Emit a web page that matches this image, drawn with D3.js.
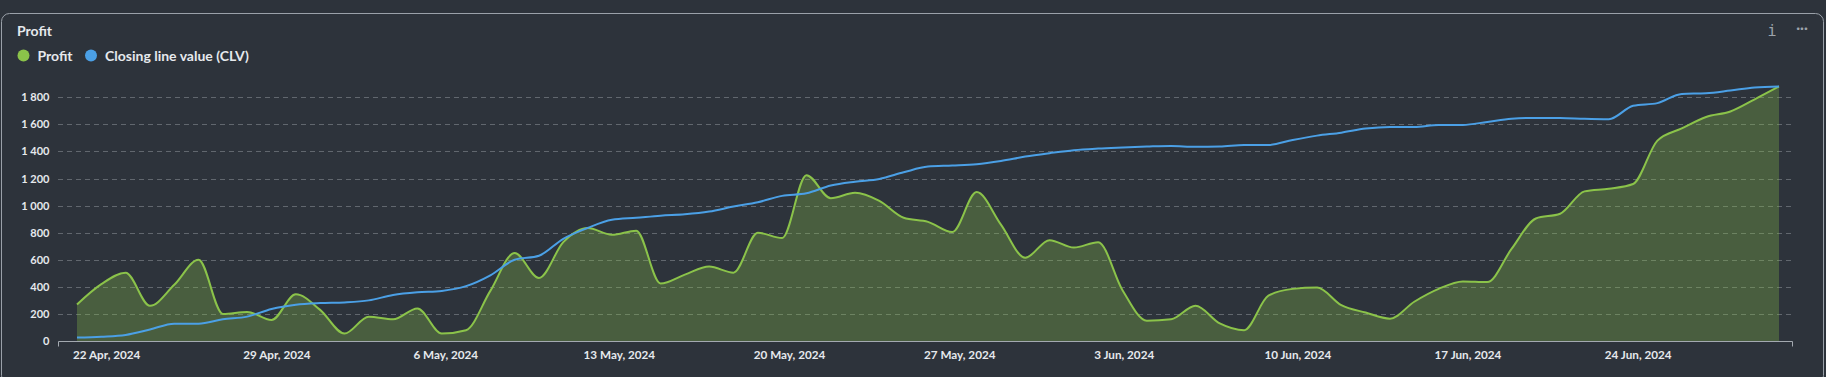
<!DOCTYPE html>
<html>
<head>
<meta charset="utf-8">
<script src="https://cdn.jsdelivr.net/npm/d3@7"></script>
<style>
  html, body { margin: 0; padding: 0; background: #2d333b; }
  svg { display: block; font-family: Lato, "Open Sans", sans-serif; }
</style>
</head>
<body>
<svg id="chart" width="1826" height="377"></svg>
<script>
// ---- data ----
const startDate = "2024-04-22";
const endDate = "2024-07-01"; // inclusive, daily points
const profit = [
  270, 420, 505, 260, 415, 600, 200, 215, 155, 345,
  230, 55, 180, 160, 240, 55, 80, 370, 650, 465,
  730, 835, 785, 815, 425, 490, 550, 505, 800, 760,
  1225, 1055, 1095, 1035, 910, 880, 805, 1100, 860, 615,
  745, 690, 730, 375, 150, 160, 260, 130, 80, 335,
  385, 395, 265, 210, 165, 290, 385, 440, 435, 680,
  905, 940, 1105, 1125, 1160, 1480, 1570, 1655, 1695, 1785,
  1880
];
const clv = [
  25, 32, 45, 85, 128, 128, 160, 180, 237, 268,
  280, 285, 300, 340, 360, 370, 405, 485, 600, 630,
  755, 835, 895, 910, 926, 936, 956, 993, 1025, 1072,
  1091, 1148, 1177, 1197, 1246, 1288, 1296, 1306, 1330, 1362,
  1387, 1409, 1421, 1429, 1436, 1441, 1434, 1436, 1448, 1448,
  1485, 1517, 1539, 1569, 1581, 1581, 1596, 1596, 1618, 1641,
  1648, 1648, 1641, 1638, 1737, 1757, 1825, 1830, 1850, 1872,
  1879
];
const yTicks = [0, 200, 400, 600, 800, 1000, 1200, 1400, 1600, 1800];
const xTickDates = ["2024-04-22", "2024-04-29", "2024-05-06", "2024-05-13", "2024-05-20",
                    "2024-05-27", "2024-06-03", "2024-06-10", "2024-06-17", "2024-06-24"];
const seriesNames = ["Profit", "Closing line value (CLV)"];
const seriesColors = ["#8bc34a", "#4ba0e6"];

// ---- setup ----
const parse = d3.utcParse("%Y-%m-%d");
const days = d3.utcDay.range(parse(startDate), d3.utcDay.offset(parse(endDate), 1));
const svg = d3.select("#chart");

// panel
svg.append("rect")
  .attr("x", 1.5).attr("y", 13.5).attr("width", 1822).attr("height", 370)
  .attr("rx", 8).attr("fill", "#2d333b").attr("stroke", "#9aa1a9").attr("stroke-width", 1);

svg.append("text").attr("x", 17).attr("y", 36)
  .attr("fill", "#e6e9ed").attr("font-size", 14).attr("font-weight", 700)
  .text("Profit");

// icons
svg.append("text").attr("x", 1772).attr("y", 36).attr("text-anchor", "middle")
  .attr("fill", "#9ca3ab").attr("font-size", 15).attr("font-family", "DejaVu Sans Mono, monospace")
  .text("i");
svg.append("text").attr("x", 1802).attr("y", 33).attr("text-anchor", "middle")
  .attr("fill", "#9ca3ab").attr("font-size", 14).attr("font-weight", 700)
  .text("···");

// legend
const legend = svg.append("g");
const legendX = [23.5, 91];
seriesNames.forEach((n, i) => {
  legend.append("circle").attr("cx", legendX[i]).attr("cy", 55.5).attr("r", 6)
    .attr("fill", seriesColors[i]);
  legend.append("text").attr("x", legendX[i] + 14).attr("y", 60.5)
    .attr("fill", "#e6e9ed").attr("font-size", 14).attr("font-weight", 700)
    .text(n);
});

// scales
const x = d3.scaleUtc().domain([days[0], days[days.length - 1]]).range([77, 1779]);
const y = d3.scaleLinear().domain([0, 1800]).range([341, 97.3]);

const fmt = d3.formatLocale({ decimal: ".", thousands: "\u2009", grouping: [3], currency: ["", ""] }).format(",");
const fmtDate = d3.utcFormat("%-d %b, %Y");

// grid
svg.append("g").selectAll("line").data(yTicks.filter(t => t > 0)).join("line")
  .attr("x1", 58).attr("x2", 1793)
  .attr("y1", d => Math.round(y(d)) + 0.5).attr("y2", d => Math.round(y(d)) + 0.5)
  .attr("stroke", "#61676e").attr("stroke-width", 1).attr("stroke-dasharray", "5,4");

// y labels
svg.append("g").selectAll("text").data(yTicks).join("text")
  .attr("x", 49.5).attr("y", d => y(d) + 4).attr("text-anchor", "end")
  .attr("fill", "#e6e9ed").attr("font-size", 11).attr("font-weight", 700)
  .text(d => fmt(d).replace(/\u2009/g, " "));

// area + lines
const curve = d3.curveMonotoneX;
const area = d3.area().x((d, i) => x(days[i])).y0(y(0)).y1(d => y(d)).curve(curve);
const line = d3.line().x((d, i) => x(days[i])).y(d => y(d)).curve(curve);

svg.append("path").datum(profit).attr("d", area)
  .attr("fill", seriesColors[0]).attr("fill-opacity", 0.3);
svg.append("path").datum(profit).attr("d", line)
  .attr("fill", "none").attr("stroke", seriesColors[0]).attr("stroke-width", 2);
svg.append("path").datum(clv).attr("d", line)
  .attr("fill", "none").attr("stroke", seriesColors[1]).attr("stroke-width", 2);

// x axis line
svg.append("path")
  .attr("d", "M58.5,346.5V341.5H1792.5V346.5")
  .attr("fill", "none").attr("stroke", "#a3a9b0").attr("stroke-width", 1);

// x labels
svg.append("g").selectAll("text").data(xTickDates).join("text")
  .attr("x", d => x(parse(d)) - 4).attr("y", 359)
  .attr("fill", "#e6e9ed").attr("font-size", 11.7).attr("font-weight", 700)
  .text(d => fmtDate(parse(d)));
</script>
</body>
</html>
